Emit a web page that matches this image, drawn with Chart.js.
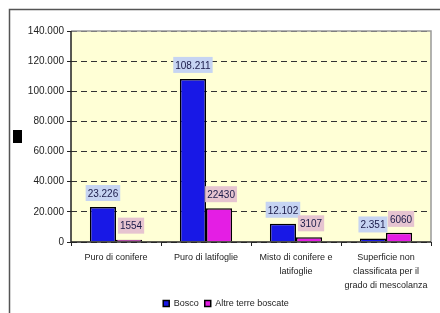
<!DOCTYPE html>
<html><head><meta charset="utf-8">
<script src="https://cdn.jsdelivr.net/npm/chart.js@4/dist/chart.umd.min.js"></script>
<style>html,body{margin:0;padding:0;background:#fff;}#wrap{position:absolute;left:0;top:0;width:440px;height:313px;}</style>
</head><body><div id="wrap"><canvas id="c" width="440" height="313"></canvas></div>
<script>
const categories = [
  "Puro di conifere",
  "Puro di latifoglie",
  ["Misto di conifere e", "latifoglie"],
  ["Superficie non", "classificata per il", "grado di mescolanza"]
];
const seriesNames = ["Bosco", "Altre terre boscate"];
const bosco = [23226, 108211, 12102, 2351];
const altre = [1554, 22430, 3107, 6060];
const yTicks = [0, 20000, 40000, 60000, 80000, 100000, 120000, 140000];

function fmtDot(v){ return String(v).replace(/\B(?=(\d{3})+(?!\d))/g, "."); }

const FONT = "'Liberation Sans', Arial, sans-serif";

const decor = {
  id: 'decor',
  beforeDraw(chart){
    const ctx = chart.ctx, a = chart.chartArea;
    ctx.save();
    ctx.fillStyle = '#fff';
    ctx.fillRect(0,0,chart.width,chart.height);
    ctx.strokeStyle = '#555';
    ctx.lineWidth = 1.5;
    ctx.beginPath();
    ctx.moveTo(9.5, chart.height); ctx.lineTo(9.5, 9.5); ctx.lineTo(chart.width, 9.5);
    ctx.stroke();
    ctx.fillStyle = '#FFFFD6';
    ctx.fillRect(a.left, a.top, a.right - a.left, a.bottom - a.top);
    ctx.fillStyle = '#000';
    ctx.fillRect(13, 130, 9, 13);
    ctx.restore();
  },
  afterDraw(chart){
    const ctx = chart.ctx, a = chart.chartArea;
    ctx.save();
    ctx.setLineDash([]);
    ctx.strokeStyle = '#999';
    ctx.lineWidth = 1.5;
    ctx.beginPath();
    ctx.moveTo(a.left, a.top); ctx.lineTo(a.right, a.top); ctx.lineTo(a.right, a.bottom);
    ctx.stroke();
    ctx.strokeStyle = '#222';
    ctx.beginPath();
    ctx.moveTo(a.left, a.top); ctx.lineTo(a.left, a.bottom); ctx.lineTo(a.right, a.bottom);
    ctx.stroke();
    ctx.restore();
  },
  afterDatasetsDraw(chart){
    const ctx = chart.ctx;
    const bgs = ['#C6D4F2', '#E6C4D0'];
    ctx.save();
    ctx.font = "10px " + FONT;
    ctx.textAlign = 'center';
    ctx.textBaseline = 'middle';
    chart.data.datasets.forEach((ds, di) => {
      const meta = chart.getDatasetMeta(di);
      meta.data.forEach((el, i) => {
        const v = ds.data[i];
        const txt = di === 0 ? fmtDot(v) : String(v);
        const w = ctx.measureText(txt).width + 4;
        const cy = el.y - 14;
        const cx = el.x + (di === 1 ? 2 : 0);
        ctx.fillStyle = bgs[di];
        ctx.fillRect(cx - w/2, cy - 8, w, 16);
        ctx.fillStyle = '#1A1A48';
        ctx.fillText(txt, cx, cy + 1);
      });
    });
    ctx.restore();
  }
};

new Chart(document.getElementById('c'), {
  type: 'bar',
  data: {
    labels: categories,
    datasets: [
      { label: seriesNames[0], data: bosco, backgroundColor: '#1818E6', borderColor: '#000', borderWidth: 1.5 },
      { label: seriesNames[1], data: altre, backgroundColor: '#E41EE4', borderColor: '#000', borderWidth: 1.5 }
    ]
  },
  options: {
    responsive: false,
    animation: false,
    layout: { padding: { left: 21, right: 9, top: 31, bottom: -5 } },
    datasets: { bar: { categoryPercentage: 0.58, barPercentage: 1.0 } },
    plugins: {
      legend: {
        position: 'bottom',
        labels: { boxWidth: 6, boxHeight: 6, padding: 6, font: { size: 9, family: FONT }, color: '#222' }
      },
      tooltip: { enabled: false }
    },
    scales: {
      x: {
        grid: { display: true, drawOnChartArea: false, tickLength: 4, color: '#222', offset: true },
        border: { display: false },
        ticks: { maxRotation: 0, autoSkip: false, padding: 4, color: '#222', font: { size: 9, family: FONT, lineHeight: 1.6 } },
        afterFit(s){ s.height = 51; }
      },
      y: {
        min: 0, max: 140000,
        afterBuildTicks(s){ s.ticks = yTicks.map(v => ({ value: v })); },
        grid: { color: '#333', tickLength: 4, tickBorderDash: [], tickColor: '#222' },
        border: { display: false, dash: [6, 4] },
        ticks: { color: '#222', padding: 3, font: { size: 10, family: FONT }, callback: v => fmtDot(v) },
        afterFit(s){ s.width = 50; }
      }
    }
  },
  plugins: [decor]
});
</script></body></html>
